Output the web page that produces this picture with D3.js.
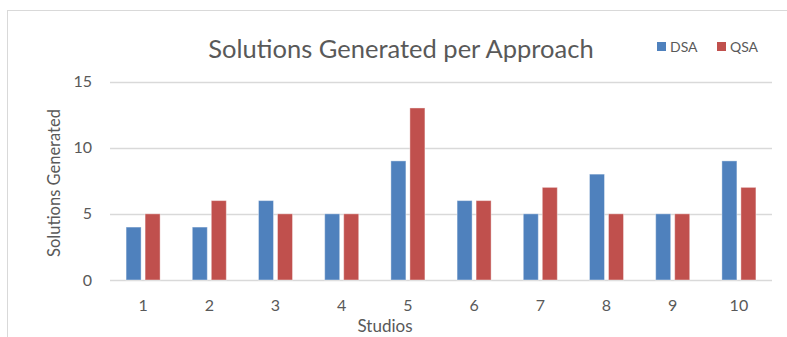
<!DOCTYPE html>
<html><head><meta charset="utf-8">
<script src="https://cdn.jsdelivr.net/npm/d3@7"></script>
<style>
body{margin:0;background:#fff;}
text{font-family:Lato,"Open Sans",sans-serif;fill:#595959;}
</style></head>
<body><svg id="c" width="787" height="337"></svg>
<script>
const categories = ["1","2","3","4","5","6","7","8","9","10"];
const seriesNames = ["DSA","QSA"];
const dsa = [4,4,6,5,9,6,5,8,5,9];
const qsa = [5,6,5,5,13,6,7,5,5,7];
const yTicks = [0,5,10,15];
const colors = ["#4f81bd","#c0504d"];

const svg = d3.select("#c");
// chart border
svg.append("rect").attr("x",7.5).attr("y",10.5).attr("width",800).attr("height",400)
  .attr("fill","none").attr("stroke","#d9d9d9").attr("stroke-width",1);

const x = d3.scaleBand().domain(categories).range([110,772]).paddingInner(0.486).paddingOuter(0.243);
const xs = d3.scaleBand().domain(seriesNames).range([0,x.bandwidth()]).paddingInner(0.21);
const y = d3.scaleLinear().domain([0,15]).range([280,81.5]);

// gridlines
svg.append("g").selectAll("line").data(yTicks).join("line")
  .attr("x1",110).attr("x2",772).attr("y1",d=>Math.round(y(d))+0.5).attr("y2",d=>Math.round(y(d))+0.5)
  .attr("stroke","#d9d9d9").attr("stroke-width",1.5);

// y tick labels
svg.append("g").selectAll("text").data(yTicks).join("text")
  .attr("x",92).attr("y",d=>y(d)).attr("dy","0.35em").attr("text-anchor","end")
  .style("font-size","16px").text(d=>d);

// x tick labels
svg.append("g").selectAll("text").data(categories).join("text")
  .attr("x",d=>x(d)+x.bandwidth()/2).attr("y",305).attr("dy","0.35em").attr("text-anchor","middle")
  .style("font-size","16px").text(d=>d);

const data = [dsa,qsa];
seriesNames.forEach((s,i)=>{
  svg.append("g").selectAll("rect").data(categories).join("rect")
    .attr("x",c=>x(c)+xs(s)).attr("width",xs.bandwidth())
    .attr("y",(c,j)=>y(data[i][j])).attr("height",(c,j)=>y(0)-y(data[i][j]))
    .attr("fill",colors[i]).attr("stroke","#fff").attr("stroke-opacity",0.4).attr("stroke-width",1);
});

// title
svg.append("text").attr("x",401).attr("y",58).attr("text-anchor","middle")
  .style("font-size","25.5px").text("Solutions Generated per Approach");

// axis titles
svg.append("text").attr("transform","translate(60,183) rotate(-90)").attr("text-anchor","middle")
  .style("font-size","16.5px").text("Solutions Generated");
svg.append("text").attr("x",385).attr("y",332).attr("text-anchor","middle")
  .style("font-size","17px").text("Studios");

// legend
const lx = [657,717];
seriesNames.forEach((s,i)=>{
  svg.append("rect").attr("x",lx[i]).attr("y",42).attr("width",9).attr("height",9).attr("fill",colors[i]);
  svg.append("text").attr("x",lx[i]+13).attr("y",47).attr("dy","0.35em").style("font-size","14px").text(s);
});
</script></body></html>
